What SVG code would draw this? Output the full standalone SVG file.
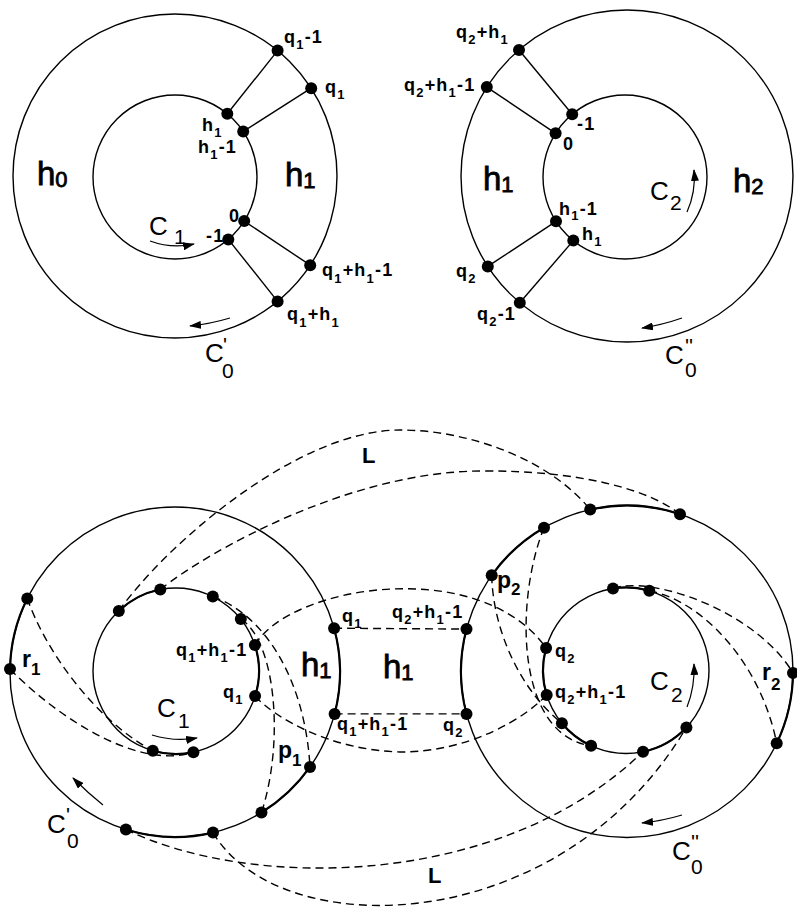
<svg xmlns="http://www.w3.org/2000/svg" width="797" height="913" viewBox="0 0 797 913">
<defs>
<style>
.ring{fill:none;stroke:#000;stroke-width:1.4}
.thick{fill:none;stroke:#000;stroke-width:2.2}
.edge{stroke:#000;stroke-width:1.4;fill:none}
.dash{fill:none;stroke:#000;stroke-width:1.4;stroke-dasharray:8 5}
.dot{fill:#000}
.arr{fill:none;stroke:#000;stroke-width:1.2}
text{font-family:"Liberation Sans",Arial,Helvetica,sans-serif;fill:#000}
.lab{font-size:18px;font-weight:bold;letter-spacing:1.2px}
.sb{font-size:13px}
.big{font-size:33px;stroke:#000;stroke-width:0.8}
.bsb{font-size:22px}
.c{font-size:26px}
.csb{font-size:21px}
.pr{font-size:23px;font-weight:bold}
.prs{font-size:17px}
.L{font-size:22px;font-weight:bold}
</style>
<marker id="ah" markerWidth="12" markerHeight="8" refX="11" refY="4" orient="auto" markerUnits="userSpaceOnUse"><path d="M0,0 L12,4 L0,8 z" fill="#000"/></marker>
</defs>
<rect width="797" height="913" fill="#fff"/>

<!-- ===== Top-left annulus ===== -->
<g id="tl-rings">
<circle class="ring" cx="175" cy="176" r="162"/>
<circle class="ring" cx="175" cy="177" r="82"/>
</g>
<g id="tl-regions">
<text class="big" x="37" y="185">h<tspan class="bsb" dy="2">0</tspan></text>
<text class="big" x="285" y="186">h<tspan class="bsb" dy="2">1</tspan></text>
<text class="c" x="149" y="235">C</text><text class="csb" x="174" y="244">1</text>
<text class="c" x="205" y="362">C</text><text class="csb" x="223" y="352">'</text><text class="csb" x="222" y="378">0</text>
</g>
<g id="tl-edges">
<line class="edge" x1="277.6" y1="50.6" x2="227.3" y2="113.8"/>
<line class="edge" x1="311.2" y1="88.2" x2="243.2" y2="131.5"/>
<line class="edge" x1="244.2" y1="221.1" x2="310.2" y2="265.2"/>
<line class="edge" x1="228.3" y1="239.4" x2="277.6" y2="301.4"/>
<path class="arr" d="M150,241 Q172,249 194,244" marker-end="url(#ah)"/>
<path class="arr" d="M230,318 Q210,324 190,326" marker-end="url(#ah)"/>
</g>
<g id="tl-q1m1"><circle class="dot" cx="277.6" cy="50.6" r="6"/><text class="lab" x="284" y="43">q<tspan class="sb" dy="6">1</tspan><tspan dy="-6">-1</tspan></text></g>
<g id="tl-q1"><circle class="dot" cx="311.2" cy="88.2" r="6"/><text class="lab" x="325" y="93">q<tspan class="sb" dy="6">1</tspan></text></g>
<g id="tl-h1"><circle class="dot" cx="227.3" cy="113.8" r="6"/><text class="lab" x="202" y="131">h<tspan class="sb" dy="6">1</tspan></text></g>
<g id="tl-h1m1"><circle class="dot" cx="243.2" cy="131.5" r="6"/><text class="lab" x="198" y="153">h<tspan class="sb" dy="6">1</tspan><tspan dy="-6">-1</tspan></text></g>
<g id="tl-0"><circle class="dot" cx="244.2" cy="221.1" r="6"/><text class="lab" x="229" y="222">0</text></g>
<g id="tl-m1"><circle class="dot" cx="228.3" cy="239.4" r="6"/><text class="lab" x="206" y="242">-1</text></g>
<g id="tl-q1h1m1"><circle class="dot" cx="310.2" cy="265.2" r="6"/><text class="lab" x="322" y="276">q<tspan class="sb" dy="7">1</tspan><tspan dy="-7">+h</tspan><tspan class="sb" dy="7">1</tspan><tspan dy="-7">-1</tspan></text></g>
<g id="tl-q1h1"><circle class="dot" cx="277.6" cy="301.4" r="6"/><text class="lab" x="287" y="320">q<tspan class="sb" dy="7">1</tspan><tspan dy="-7">+h</tspan><tspan class="sb" dy="7">1</tspan></text></g>

<!-- ===== Top-right annulus ===== -->
<g id="tr-rings">
<circle class="ring" cx="627" cy="176" r="166"/>
<circle class="ring" cx="625" cy="177" r="82"/>
</g>
<g id="tr-regions">
<text class="big" x="483" y="190">h<tspan class="bsb" dy="2">1</tspan></text>
<text class="big" x="733" y="192">h<tspan class="bsb" dy="2">2</tspan></text>
<text class="c" x="650" y="200">C</text><text class="csb" x="670" y="210">2</text>
<text class="c" x="665" y="364">C</text><text class="csb" x="685" y="353">''</text><text class="csb" x="685" y="377">0</text>
</g>
<g id="tr-edges">
<line class="edge" x1="519" y1="50" x2="572.2" y2="114.3"/>
<line class="edge" x1="486.8" y1="87.1" x2="555.6" y2="133.3"/>
<line class="edge" x1="556" y1="221.3" x2="487.8" y2="266.4"/>
<line class="edge" x1="573.3" y1="240.6" x2="519.8" y2="302.8"/>
<path class="arr" d="M687,212 Q696,192 694,170" marker-end="url(#ah)"/>
<path class="arr" d="M682,318 Q662,325 642,328" marker-end="url(#ah)"/>
</g>
<g id="tr-q2h1"><circle class="dot" cx="519" cy="50" r="6"/><text class="lab" x="456" y="38">q<tspan class="sb" dy="6">2</tspan><tspan dy="-6">+h</tspan><tspan class="sb" dy="6">1</tspan></text></g>
<g id="tr-q2h1m1"><circle class="dot" cx="486.8" cy="87.1" r="6"/><text class="lab" x="404" y="91">q<tspan class="sb" dy="6">2</tspan><tspan dy="-6">+h</tspan><tspan class="sb" dy="6">1</tspan><tspan dy="-6">-1</tspan></text></g>
<g id="tr-m1"><circle class="dot" cx="572.2" cy="114.3" r="6"/><text class="lab" x="577" y="130">-1</text></g>
<g id="tr-0"><circle class="dot" cx="555.6" cy="133.3" r="6"/><text class="lab" x="563" y="150">0</text></g>
<g id="tr-h1m1"><circle class="dot" cx="556" cy="221.3" r="6"/><text class="lab" x="559" y="215">h<tspan class="sb" dy="5">1</tspan><tspan dy="-5">-1</tspan></text></g>
<g id="tr-h1"><circle class="dot" cx="573.3" cy="240.6" r="6"/><text class="lab" x="582" y="240">h<tspan class="sb" dy="6">1</tspan></text></g>
<g id="tr-q2"><circle class="dot" cx="487.8" cy="266.4" r="6"/><text class="lab" x="456" y="277">q<tspan class="sb" dy="6">2</tspan></text></g>
<g id="tr-q2m1"><circle class="dot" cx="519.8" cy="302.8" r="6"/><text class="lab" x="477" y="320">q<tspan class="sb" dy="6">2</tspan><tspan dy="-6">-1</tspan></text></g>

<!-- ===== Bottom figure ===== -->
<g id="b-rings">
<circle class="ring" cx="175" cy="672" r="165"/>
<circle class="ring" cx="176" cy="671" r="83"/>
<circle class="ring" cx="627" cy="671.5" r="166"/>
<circle class="ring" cx="626" cy="670.5" r="83"/>
<path class="thick" d="M27.3,598.4 A165,165 0 0 0 10,669.1"/>
<path class="thick" d="M125.9,829.5 A165,165 0 0 0 213,832.6"/>
<path class="thick" d="M261.5,812.5 A165,165 0 0 0 310,766.9"/>
<path class="thick" d="M334.1,628.2 A165,165 0 0 1 334.6,713.9"/>
<path class="thick" d="M118.8,610.9 A83,83 0 0 1 160.3,589.5"/>
<path class="thick" d="M152.8,750.7 A83,83 0 0 0 193.4,752.2"/>
<path class="thick" d="M254.9,645.1 A83,83 0 0 1 255.1,696.1"/>
<path class="thick" d="M590.2,509.6 A166,166 0 0 1 680,514.2"/>
<path class="thick" d="M544,527.7 A166,166 0 0 0 491.7,575.3"/>
<path class="thick" d="M466.5,629.1 A166,166 0 0 0 466.5,713.9"/>
<path class="thick" d="M793,672.9 A166,166 0 0 1 776.7,743.2"/>
<path class="thick" d="M613,588.5 A83,83 0 0 1 649.3,590.8"/>
<path class="thick" d="M561.9,723.2 A83,83 0 0 0 591.1,745.8"/>
<path class="thick" d="M643,751.7 A83,83 0 0 0 686.4,727.4"/>
<path class="thick" d="M546.1,648 A83,83 0 0 0 546.7,695"/>
</g>
<g id="b-connectors">
<path class="dash" d="M118.8,610.9 C170,540 300,430 400,430 C470,430 550,460 590.2,509.6"/>
<path class="dash" d="M160.3,589.5 C210,550 350,472 480,471 C580,470 650,490 680,514.2"/>
<path class="dash" d="M254.9,645.1 C290,585 480,555 546.1,648"/>
<path class="dash" d="M255.1,696.1 C275,718 330,750 400,752 C470,752 525,718 546.7,695"/>
<path class="dash" d="M334.1,628.2 L466.5,629.1"/>
<path class="dash" d="M334.6,713.9 L466.5,713.9"/>
<path class="dash" d="M10,669.1 C60,720 140,770 193.4,752.2"/>
<path class="dash" d="M27.3,598.4 C45,650 95,720 152.8,750.7"/>
<path class="dash" d="M212.8,596.6 C265,615 305,680 310,766.9"/>
<path class="dash" d="M240.8,619.1 C275,640 285,740 261.5,812.5"/>
<path class="dash" d="M544,527.7 C515,600 515,735 591.1,745.8"/>
<path class="dash" d="M491.7,575.3 C493,630 520,690 561.9,723.2"/>
<path class="dash" d="M613,588.5 C650,575 755,610 793,672.9"/>
<path class="dash" d="M649.3,590.8 C700,600 760,660 776.7,743.2"/>
<path class="dash" d="M125.9,829.5 C250,890 500,890 643,751.7"/>
<path class="dash" d="M213,832.6 C280,945 560,940 686.4,727.4"/>
<path class="arr" d="M152,735 Q175,742 197,738" marker-end="url(#ah)"/>
<path class="arr" d="M103,805 Q88,793 73,778" marker-end="url(#ah)"/>
<path class="arr" d="M687,707 Q695,687 694,664" marker-end="url(#ah)"/>
<path class="arr" d="M682,815 Q662,821 642,823" marker-end="url(#ah)"/>
</g>
<g id="b-regions">
<text class="big" x="301" y="676">h<tspan class="bsb" dy="2">1</tspan></text>
<text class="big" x="383" y="678">h<tspan class="bsb" dy="2">1</tspan></text>
<text class="c" x="157" y="717">C</text><text class="csb" x="178" y="728">1</text>
<text class="c" x="47" y="833">C</text><text class="csb" x="66" y="822">'</text><text class="csb" x="67" y="848">0</text>
<text class="c" x="650" y="690">C</text><text class="csb" x="671" y="702">2</text>
<text class="c" x="672" y="860">C</text><text class="csb" x="691" y="849">''</text><text class="csb" x="691" y="874">0</text>
<text class="L" x="362" y="463">L</text>
<text class="L" x="428" y="883">L</text>
</g>
<!-- left outer nodes -->
<g id="bl-o1"><circle class="dot" cx="27.3" cy="598.4" r="6"/></g>
<g id="bl-r1"><circle class="dot" cx="10" cy="669.1" r="6"/><text class="pr" x="22" y="667">r<tspan class="prs" dy="8">1</tspan></text></g>
<g id="bl-o3"><circle class="dot" cx="125.9" cy="829.5" r="6"/></g>
<g id="bl-o4"><circle class="dot" cx="213" cy="832.6" r="6"/></g>
<g id="bl-o5"><circle class="dot" cx="261.5" cy="812.5" r="6"/></g>
<g id="bl-p1"><circle class="dot" cx="310" cy="766.9" r="6"/><text class="pr" x="278" y="758">p<tspan class="prs" dy="8">1</tspan></text></g>
<g id="bl-q1h1m1"><circle class="dot" cx="334.6" cy="713.9" r="6"/><text class="lab" x="337" y="730">q<tspan class="sb" dy="6">1</tspan><tspan dy="-6">+h</tspan><tspan class="sb" dy="6">1</tspan><tspan dy="-6">-1</tspan></text></g>
<g id="bl-q1"><circle class="dot" cx="334.1" cy="628.2" r="6"/><text class="lab" x="342" y="622">q<tspan class="sb" dy="6">1</tspan></text></g>
<!-- left inner nodes -->
<g id="bl-i1"><circle class="dot" cx="118.8" cy="610.9" r="6"/></g>
<g id="bl-i2"><circle class="dot" cx="160.3" cy="589.5" r="6"/></g>
<g id="bl-i3"><circle class="dot" cx="212.8" cy="596.6" r="6"/></g>
<g id="bl-i4"><circle class="dot" cx="240.8" cy="619.1" r="6"/></g>
<g id="bl-iq1h1m1"><circle class="dot" cx="254.9" cy="645.1" r="6"/><text class="lab" x="176" y="656">q<tspan class="sb" dy="6">1</tspan><tspan dy="-6">+h</tspan><tspan class="sb" dy="6">1</tspan><tspan dy="-6">-1</tspan></text></g>
<g id="bl-iq1"><circle class="dot" cx="255.1" cy="696.1" r="6"/><text class="lab" x="223" y="698">q<tspan class="sb" dy="6">1</tspan></text></g>
<g id="bl-i7"><circle class="dot" cx="193.4" cy="752.2" r="6"/></g>
<g id="bl-i8"><circle class="dot" cx="152.8" cy="750.7" r="6"/></g>
<!-- right outer nodes -->
<g id="br-o1"><circle class="dot" cx="590.2" cy="509.6" r="6"/></g>
<g id="br-o2"><circle class="dot" cx="680" cy="514.2" r="6"/></g>
<g id="br-o3"><circle class="dot" cx="544" cy="527.7" r="6"/></g>
<g id="br-p2"><circle class="dot" cx="491.7" cy="575.3" r="6"/><text class="pr" x="497" y="588">p<tspan class="prs" dy="7">2</tspan></text></g>
<g id="br-q2h1m1"><circle class="dot" cx="466.5" cy="629.1" r="6"/><text class="lab" x="392" y="618">q<tspan class="sb" dy="6">2</tspan><tspan dy="-6">+h</tspan><tspan class="sb" dy="6">1</tspan><tspan dy="-6">-1</tspan></text></g>
<g id="br-q2"><circle class="dot" cx="466.5" cy="713.9" r="6"/><text class="lab" x="443" y="731">q<tspan class="sb" dy="6">2</tspan></text></g>
<g id="br-o7"><circle class="dot" cx="776.7" cy="743.2" r="6"/></g>
<g id="br-r2"><circle class="dot" cx="793" cy="672.9" r="6"/><text class="pr" x="762" y="680">r<tspan class="prs" dy="10">2</tspan></text></g>
<!-- right inner nodes -->
<g id="br-i1"><circle class="dot" cx="613" cy="588.5" r="6"/></g>
<g id="br-i2"><circle class="dot" cx="649.3" cy="590.8" r="6"/></g>
<g id="br-iq2"><circle class="dot" cx="546.1" cy="648" r="6"/><text class="lab" x="555" y="657">q<tspan class="sb" dy="6">2</tspan></text></g>
<g id="br-iq2h1m1"><circle class="dot" cx="546.7" cy="695" r="6"/><text class="lab" x="555" y="698">q<tspan class="sb" dy="6">2</tspan><tspan dy="-6">+h</tspan><tspan class="sb" dy="6">1</tspan><tspan dy="-6">-1</tspan></text></g>
<g id="br-i5"><circle class="dot" cx="561.9" cy="723.2" r="6"/></g>
<g id="br-i6"><circle class="dot" cx="591.1" cy="745.8" r="6"/></g>
<g id="br-i7"><circle class="dot" cx="643" cy="751.7" r="6"/></g>
<g id="br-i8"><circle class="dot" cx="686.4" cy="727.4" r="6"/></g>
</svg>
